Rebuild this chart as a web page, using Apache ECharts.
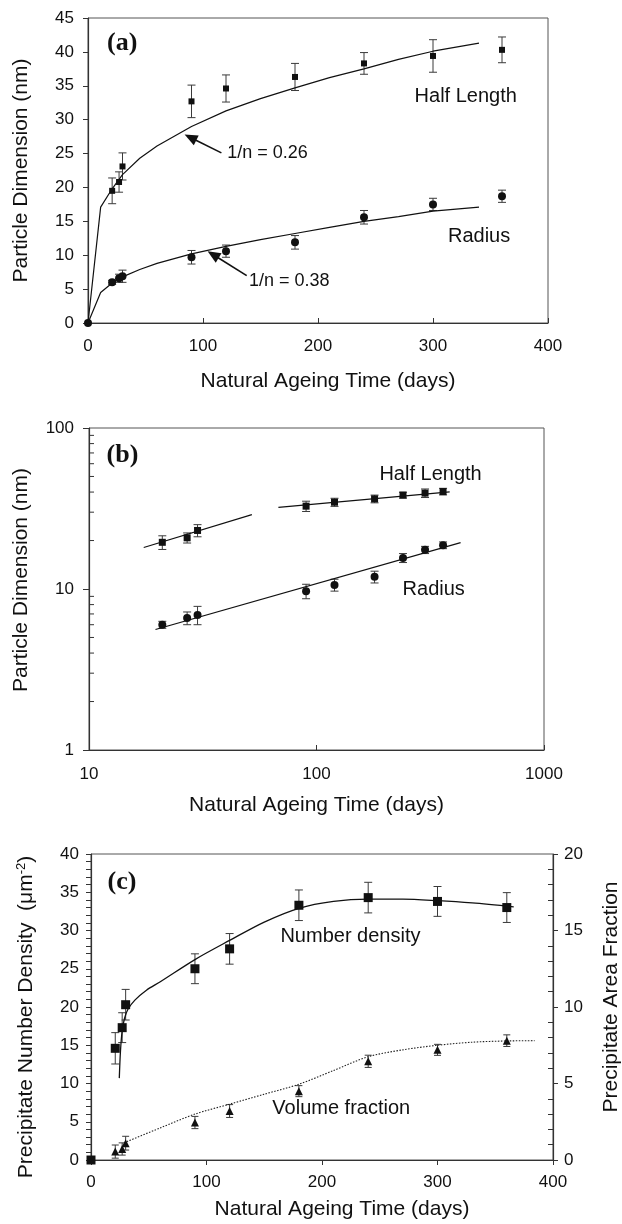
<!DOCTYPE html>
<html><head><meta charset="utf-8">
<script src="https://cdn.jsdelivr.net/npm/echarts@6/dist/echarts.min.js"></script>
<style>html,body{margin:0;padding:0;background:#fff}#c{width:622px;height:1224px}</style>
</head><body><div id="c"></div>
<script>
// ---------- data ----------
const days = [21, 27, 30, 90, 120, 180, 240, 300, 360];
const halfLength = [19.5, 20.8, 23.1, 32.7, 34.6, 36.3, 38.3, 39.4, 40.3];
const halfLengthErr = [1.9, 1.5, 2.0, 2.4, 2.0, 2.0, 1.6, 2.4, 1.9];
const radius = [6.0, 6.6, 6.9, 9.7, 10.6, 11.9, 15.6, 17.5, 18.7];
const radiusErr = [0.3, 0.6, 0.9, 1.0, 0.9, 1.0, 1.0, 0.9, 0.9];
const origin = [0, 0];

const fitDays = [0, 11, 21, 30, 45, 60, 90, 120, 150, 180, 210, 240, 270, 300, 340];
const halfLengthFit = [0, 17.1, 19.8, 21.9, 24.3, 26.1, 29.0, 31.3, 33.1, 34.7, 36.2, 37.5, 38.9, 40.1, 41.3];
const radiusFit = [0, 4.5, 5.9, 6.8, 7.9, 8.8, 10.2, 11.3, 12.3, 13.2, 14.1, 15.0, 15.7, 16.5, 17.1];

const logFitHalfLengthA = [[17.4, 18.1], [52, 29.0]];
const logFitHalfLengthB = [[68, 32.1], [385, 40.1]];
const logFitRadius = [[19.6, 5.6], [430, 19.4]];
const logMinorTicks = [2, 3, 4, 5, 6, 7, 8, 9, 20, 30, 40, 50, 60, 70, 80, 90];

const numberDensity = [14.6, 17.3, 20.3, 25.0, 27.6, 33.3, 34.3, 33.8, 33.0];
const numberDensityErr = [2.05, 1.95, 2.0, 1.95, 2.0, 2.0, 2.0, 1.95, 1.95];
const areaFraction = [0.55, 0.72, 1.1, 2.45, 3.2, 4.5, 6.45, 7.2, 7.8];
const areaFractionErr = [0.43, 0.4, 0.45, 0.4, 0.42, 0.36, 0.4, 0.36, 0.38];
const numberDensityFit = [[24.5, 10.7], [25.5, 14.2], [27, 16.9], [29, 18.5], [32, 19.7], [38, 20.9], [48, 22.2], [60, 23.3], [90, 26.2], [120, 28.7], [150, 31.1], [180, 32.9], [210, 33.8], [240, 34.1], [270, 34.1], [300, 33.9], [330, 33.6], [366, 33.1]];
const areaFractionFit = [[31, 1.2], [60, 2.1], [90, 3.0], [120, 3.65], [150, 4.3], [180, 4.95], [210, 5.85], [240, 6.75], [270, 7.2], [300, 7.5], [330, 7.7], [360, 7.78], [384, 7.8]];

// annotation texts and arrows at data coordinates
const annotA = [{ name: 'Half Length', value: [284, 33.4] }, { name: 'Radius', value: [313, 12.8] }, { name: '1/n = 0.26', value: [121, 25.1], small: true }, { name: '1/n = 0.38', value: [140, 6.25], small: true }];
const arrowsA = [[116, 25.1, 84, 27.8], [138, 7.0, 104, 10.6]];
const annotB = [{ name: 'Half Length', value: [189, 51.6] }, { name: 'Radius', value: [239, 10.0] }];
const annotC = [{ name: 'Number density', value: [164, 29.2] }, { name: 'Volume fraction', value: [157, 6.7] }];
const panelLabels = [{ name: '(a)', value: [16.5, 41.3] }, { name: '(b)', value: [11.95, 67.7] }, { name: '(c)', value: [14.3, 36.25] }];

// ---------- styles ----------
const FONT = '"Liberation Sans", Arial, Helvetica, sans-serif';
const SERIF = '"Liberation Serif", "Times New Roman", serif';
const INK = '#111';
const AX = '#333';

function errRender(cap) {
  return function (params, api) {
    const x = api.value(0), y = api.value(1), e = api.value(2);
    const hi = api.coord([x, y + e]), lo = api.coord([x, y - e]);
    const s = { stroke: '#3a3a3a', lineWidth: 1 };
    return { type: 'group', children: [
      { type: 'line', shape: { x1: hi[0], y1: hi[1], x2: lo[0], y2: lo[1] }, style: s },
      { type: 'line', shape: { x1: hi[0] - cap, y1: hi[1], x2: hi[0] + cap, y2: hi[1] }, style: s },
      { type: 'line', shape: { x1: lo[0] - cap, y1: lo[1], x2: lo[0] + cap, y2: lo[1] }, style: s }
    ] };
  };
}
function errSeries(xi, yi, xs, ys, es, cap) {
  return { type: 'custom', xAxisIndex: xi, yAxisIndex: yi, renderItem: errRender(cap), silent: true, z: 2,
    encode: { x: 0, y: 1 }, data: xs.map((d, i) => [d, ys[i], es[i]]) };
}
function arrowSeries(xi, yi, arrows) {
  return { type: 'custom', xAxisIndex: xi, yAxisIndex: yi, silent: true, z: 5, clip: false,
    encode: { x: [0, 2], y: [1, 3] }, data: arrows,
    renderItem: function (params, api) {
      const a = api.coord([api.value(0), api.value(1)]);
      const b = api.coord([api.value(2), api.value(3)]);
      const dx = b[0] - a[0], dy = b[1] - a[1], L = Math.sqrt(dx * dx + dy * dy);
      const ux = dx / L, uy = dy / L, nx = -uy, ny = ux, hl = 13, hw = 5.5;
      const bx = b[0] - ux * hl, by = b[1] - uy * hl;
      return { type: 'group', children: [
        { type: 'line', shape: { x1: a[0], y1: a[1], x2: bx + ux * 2, y2: by + uy * 2 }, style: { stroke: '#111', lineWidth: 1.6 } },
        { type: 'polygon', shape: { points: [[b[0], b[1]], [bx + nx * hw, by + ny * hw], [bx - nx * hw, by - ny * hw]] }, style: { fill: '#111' } }
      ] };
    } };
}
function scatterSeries(xi, yi, pts, symbol, size) {
  return { type: 'scatter', xAxisIndex: xi, yAxisIndex: yi, symbol: symbol, symbolSize: size, silent: true, z: 4,
    itemStyle: { color: '#111', opacity: 1 }, data: pts };
}
function lineSeries(xi, yi, pts, extra) {
  return Object.assign({ type: 'line', xAxisIndex: xi, yAxisIndex: yi, data: pts, showSymbol: false, symbol: 'none',
    silent: true, z: 3, lineStyle: { color: '#111', width: 1.2 } }, extra || {});
}
function textSeries(xi, yi, items, font, size, weight) {
  return { type: 'scatter', xAxisIndex: xi, yAxisIndex: yi, symbolSize: 0, silent: true, z: 6,
    itemStyle: { opacity: 1, color: INK },
    data: items.map(a => ({ name: a.name, value: a.value, label: { fontSize: a.small ? 18 : size } })),
    label: { show: true, position: 'right', distance: 0, formatter: p => p.name, color: INK, opacity: 1,
      fontFamily: font, fontSize: size, fontWeight: weight || 'normal' } };
}
function valAxis(o) {
  return Object.assign({
    type: 'value', nameLocation: 'middle',
    nameTextStyle: { fontSize: 21, color: INK, fontFamily: FONT },
    axisLine: { show: true, onZero: false, lineStyle: { color: AX, width: 1.2 } },
    axisTick: { show: true, length: 5, inside: false, lineStyle: { color: AX, width: 1 } },
    axisLabel: { fontSize: 17, color: INK, fontFamily: FONT, margin: 14 },
    splitLine: { show: false }, minorTick: { show: false }, nameMoveOverlap: false
  }, o);
}
function pair(xs, ys) { return xs.map((d, i) => [d, ys[i]]); }
const plain = v => String(v);

const gridBase = { show: true, borderColor: '#555', borderWidth: 1, backgroundColor: 'rgba(0,0,0,0)', containLabel: false, outerBoundsMode: 'none' };

const hlPts = [origin].concat(pair(days, halfLength));
const rPts = [origin].concat(pair(days, radius));
const ndPts = [origin].concat(pair(days, numberDensity));

const option = {
  animation: false,
  backgroundColor: '#fff',
  textStyle: { fontFamily: FONT },
  grid: [
    Object.assign({ left: 88, top: 18, width: 460, height: 305 }, gridBase),
    Object.assign({ left: 89, top: 428, width: 455, height: 322 }, gridBase),
    Object.assign({ left: 91, top: 854, width: 462, height: 306 }, gridBase)
  ],
  xAxis: [
    valAxis({ gridIndex: 0, min: 0, max: 400, interval: 100, name: 'Natural Ageing Time (days)', nameGap: 48,
      nameTextStyle: { fontSize: 21, color: INK, fontFamily: FONT, padding: [0, 0, 0, 20] },
      axisTick: { show: true, inside: true, length: 5, lineStyle: { color: AX } }, axisLabel: { fontSize: 17, color: INK, margin: 15 } }),
    valAxis({ gridIndex: 1, type: 'log', logBase: 10, min: 10, max: 1000, name: 'Natural Ageing Time (days)', nameGap: 45,
      axisTick: { show: true, inside: true, length: 5, lineStyle: { color: AX } }, axisLabel: { fontSize: 17, color: INK, margin: 16, formatter: plain } }),
    valAxis({ gridIndex: 2, min: 0, max: 400, interval: 100, name: 'Natural Ageing Time (days)', nameGap: 39,
      nameTextStyle: { fontSize: 21, color: INK, fontFamily: FONT, padding: [0, 0, 0, 40] },
      axisLabel: { fontSize: 17, color: INK, margin: 14 } })
  ],
  yAxis: [
    valAxis({ gridIndex: 0, min: 0, max: 45, interval: 5, name: 'Particle Dimension (nm)', nameGap: 56, nameRotate: 90 }),
    valAxis({ gridIndex: 1, type: 'log', logBase: 10, min: 1, max: 100, name: 'Particle Dimension (nm)', nameGap: 57, nameRotate: 90,
      nameTextStyle: { fontSize: 21, color: INK, fontFamily: FONT, padding: [0, 0, 0, 18] },
      axisTick: { show: true, length: 6, lineStyle: { color: AX } }, axisLabel: { fontSize: 17, color: INK, margin: 15, formatter: plain } }),
    valAxis({ gridIndex: 2, min: 0, max: 40, interval: 5, name: 'Precipitate Number Density  (μm{sup|-2})', nameGap: 54, nameRotate: 90,
      nameTextStyle: { fontSize: 21, color: INK, fontFamily: FONT, padding: [0, 20, 0, 0],
        rich: { sup: { fontSize: 13, color: INK, fontFamily: FONT, padding: [0, 0, 9, 0] } } },
      axisLabel: { fontSize: 17, color: INK, margin: 12 } }),
    valAxis({ gridIndex: 2, position: 'right', min: 0, max: 20, interval: 5, name: 'Precipitate Area Fraction', nameGap: 48, nameRotate: 90,
      nameTextStyle: { fontSize: 21, color: INK, fontFamily: FONT, padding: [0, 0, 0, 20] },
      axisLabel: { fontSize: 17, color: INK, margin: 11 } }),
    valAxis({ gridIndex: 2, min: 0, max: 40, interval: 5, axisLine: { show: false }, axisLabel: { show: false },
      axisTick: { show: false, inside: true }, minorTick: { show: true, splitNumber: 5, length: 5, lineStyle: { color: AX, width: 1 } } }),
    valAxis({ gridIndex: 2, position: 'right', min: 0, max: 20, interval: 5, axisLine: { show: false }, axisLabel: { show: false },
      axisTick: { show: false, inside: true }, minorTick: { show: true, splitNumber: 5, length: 5, lineStyle: { color: AX, width: 1 } } })
  ],
  series: [
    // (a)
    errSeries(0, 0, days, halfLength, halfLengthErr, 4),
    errSeries(0, 0, days, radius, radiusErr, 4),
    lineSeries(0, 0, pair(fitDays, halfLengthFit)),
    lineSeries(0, 0, pair(fitDays, radiusFit)),
    scatterSeries(0, 0, hlPts, 'rect', 6),
    scatterSeries(0, 0, rPts, 'circle', 8),
    arrowSeries(0, 0, arrowsA),
    textSeries(0, 0, annotA, FONT, 20),
    // (b)
    errSeries(1, 1, days, halfLength, halfLengthErr, 4),
    errSeries(1, 1, days, radius, radiusErr, 4),
    lineSeries(1, 1, logFitHalfLengthA),
    lineSeries(1, 1, logFitHalfLengthB),
    lineSeries(1, 1, logFitRadius),
    scatterSeries(1, 1, pair(days, halfLength), 'rect', 7),
    scatterSeries(1, 1, pair(days, radius), 'circle', 8),
    textSeries(1, 1, annotB, FONT, 20),
    { type: 'custom', xAxisIndex: 1, yAxisIndex: 1, silent: true, clip: false, encode: { x: 0, y: 1 },
      data: logMinorTicks.map(v => [10, v]),
      renderItem: function (params, api) {
        const p = api.coord([api.value(0), api.value(1)]);
        return { type: 'line', shape: { x1: p[0], y1: p[1], x2: p[0] + 5, y2: p[1] }, style: { stroke: AX, lineWidth: 1 } };
      } },
    // (c)
    errSeries(2, 2, days, numberDensity, numberDensityErr, 4),
    errSeries(2, 3, days, areaFraction, areaFractionErr, 3.5),
    lineSeries(2, 2, numberDensityFit, { smooth: 0.3, lineStyle: { color: '#111', width: 1.3 } }),
    lineSeries(2, 3, areaFractionFit, { smooth: 0.3, lineStyle: { color: '#222', width: 1.1, type: [1.5, 1.5] } }),
    scatterSeries(2, 2, ndPts, 'rect', 9),
    scatterSeries(2, 3, pair(days, areaFraction), 'triangle', 8),
    textSeries(2, 2, annotC, FONT, 20),
    // panel labels
    textSeries(0, 0, [panelLabels[0]], SERIF, 26, 'bold'),
    textSeries(1, 1, [panelLabels[1]], SERIF, 26, 'bold'),
    textSeries(2, 2, [panelLabels[2]], SERIF, 26, 'bold')
  ]
};
const chart = echarts.init(document.getElementById('c'), null, { renderer: 'canvas' });
chart.setOption(option);
</script></body></html>
